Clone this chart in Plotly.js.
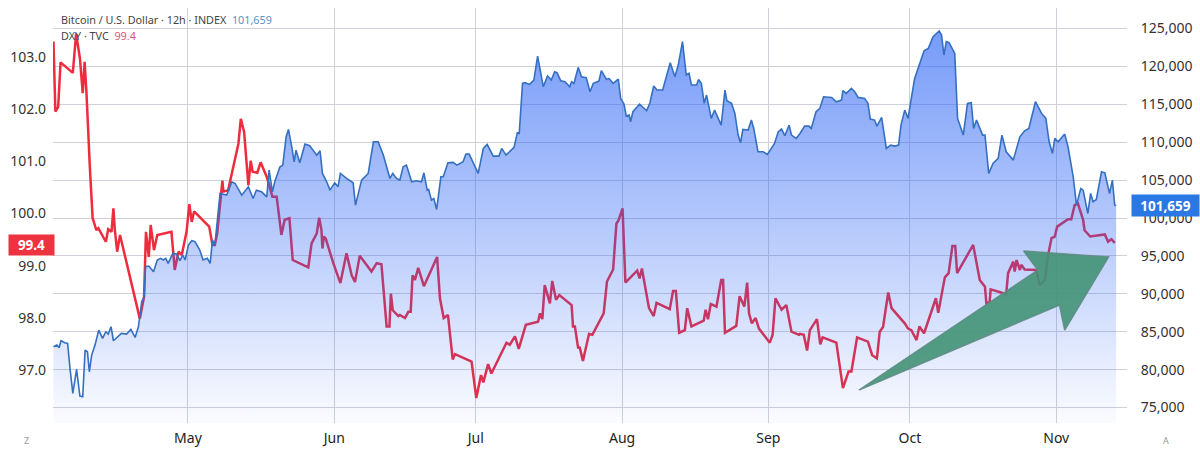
<!DOCTYPE html>
<html><head><meta charset="utf-8">
<script src="https://cdn.plot.ly/plotly-3.0.1.min.js"></script>
<style>html,body{margin:0;padding:0;background:#fff}#c{width:1200px;height:457px}</style></head>
<body><div id="c"></div>
<script>
// x is day of year 2025
const monthDays=[121,152,182,213,244,274,305];
const monthLabels=["May","Jun","Jul","Aug","Sep","Oct","Nov"];
const btcTicks=[75000,80000,85000,90000,95000,100000,105000,110000,115000,120000,125000];
const dxyTicks=[97,98,99,100,101,102,103];
const btcDay=[92.5,93.2,93.7,94.1,94.9,95.5,96,96.6,97.4,98.1,98.7,99.2,99.7,100.1,100.6,101.3,102.1,102.9,103.6,104.1,104.7,105.2,106.9,108,108.9,109.8,110.5,111.2,111.7,112,112.7,113.7,114.5,115.2,115.8,116.3,116.8,117.8,118.6,119.3,119.9,120.4,121.1,121.8,122.5,123.5,124.2,125.1,125.7,126.2,126.7,127.8,129.2,130.3,131,132.4,133.8,134.8,135.5,136.6,137.7,138.2,138.9,139.4,140.5,141.1,141.8,142.3,143,143.5,143.9,144.7,145.8,146.8,148.3,149,149.5,150.4,151.1,152.1,152.8,153.3,154.6,156,156.5,157.8,159.2,160.3,161.3,162.4,163.8,164.4,165.2,165.9,166.6,167.3,168.4,169.4,170.5,171,171.7,172,172.6,173.1,173.7,174.6,175.1,176.1,177.2,178,179.3,179.9,180.6,181.4,182.5,183.6,184.4,185.7,186.9,187.5,188.4,190.1,190.8,191.2,191.9,192.4,193.4,194.3,195.1,196.3,197.2,198,198.7,199.2,200,200.9,201.9,202.3,202.8,203.7,204.4,205.4,206.2,206.9,208.1,208.6,209.7,210.2,211.1,212.2,212.7,213.4,213.9,214.5,214.8,215.3,216.7,218.2,218.9,219.7,220.4,221.6,222.4,223.2,224.2,224.9,225.8,226.6,227.2,227.7,228.8,229.2,229.8,230.4,230.9,231.9,232.6,234,234.8,235.2,236.2,236.9,237.6,238.1,238.6,239.7,240.4,240.9,241.8,242.9,243.8,245.3,246.1,246.8,247.5,248.4,248.9,249.9,250.7,251.7,252.6,253.1,254.1,254.9,255.7,257.4,258.4,259.5,259.8,260.5,261.6,262.3,263,264.4,265.1,265.6,266.5,267,268,269,269.9,270.8,271.6,272.1,272.9,273.6,274.7,275,276.1,277,277.9,278.9,280.2,280.7,281.2,281.7,282.3,283.5,284.1,285.3,286.2,287,287.5,288.1,289.4,289.9,290.7,291.6,292.7,293.5,294.4,295.9,297.3,298.3,299.2,300.6,301.9,302.8,303.5,304.2,304.7,305.4,306.8,307.5,308.6,309.3,310.2,310.7,311.7,312.3,312.8,313.5,314.6,315.3,316.3,316.9,317.4,317.7];
const btcPrice=[83017,83237,82885,83809,83545,83457,80157,76857,80025,76505,76417,82577,82357,79717,81917,83237,85217,84117,84997,84689,85657,83809,84777,84689,85305,84249,85657,88957,89617,93577,93665,92917,94457,94677,94457,94677,94017,95337,95249,94369,95117,94457,96437,97009,96877,95777,94457,94677,94017,97097,96437,103234,103014,104774,104554,103014,104114,102574,103674,103454,102794,106314,103454,104774,106754,106974,110714,111682,109394,107414,108954,107282,109746,109526,108294,108866,105874,104774,103674,104642,104114,105874,105214,104642,101694,104994,105874,110054,110054,108294,105214,105874,105214,104997,106757,106977,104777,104909,104777,105965,103677,103765,102357,102577,101125,105437,105437,107285,107329,106977,107417,108429,108429,107417,105877,109177,109705,108165,108165,109177,108297,109309,111245,111157,117757,117845,117625,118197,121365,117317,118725,118197,119297,119165,118109,117977,117317,117977,117757,119869,118637,118505,116657,117757,118065,119429,118285,118417,117757,118329,115777,115029,113445,113577,112697,114017,115029,114149,115205,117405,116877,116877,118857,120485,118637,120177,123257,118857,119077,117537,117537,118285,117757,115117,116217,113137,114237,112257,116877,115469,115117,113797,110937,109925,111685,111597,112917,111817,108737,108737,108385,109837,111377,111729,110849,112257,110937,110497,111156,112124,112124,111816,114016,114456,115996,115908,115336,115556,116788,116436,117096,116656,115908,115776,115116,113048,112916,112124,113268,109176,109616,109484,109616,112256,114236,113136,117316,118416,120396,122068,122376,123916,124664,124136,121496,123256,123124,121716,113136,110936,115116,115204,111816,112916,110936,110936,105876,107196,107856,110936,108736,107636,110716,111508,111816,115336,113796,113136,110056,108516,110496,110056,111068,109396,105436,101696,103896,103676,100596,103236,102136,102444,106096,105964,103236,104996,101696,101659];
const dxyDay=[92.5,92.9,93.5,94,96.6,97.3,98.1,98.7,99.1,99.5,100.2,100.8,101.6,102,103.6,104.1,104.8,105.2,105.5,106,106.6,110.8,111.7,112.1,112.7,113.1,113.8,114.5,117.5,118.2,119,119.7,120.7,121.3,121.8,122.3,125.5,126.2,126.7,127.2,128.3,128.5,129.5,131.7,132.2,132.9,133.8,134.3,134.7,135.7,136.4,137.7,138.9,139.8,140.8,141.5,142.5,143.2,146.5,147.2,148.3,148.8,149.3,149.5,149.8,150.2,151.8,153.3,154.6,155.7,156.4,157.4,159.9,161,162,163.1,163.7,164,164.4,165.6,165.9,167,167.7,168.2,168.6,169.1,169.8,171,173.8,174.4,175.2,176.1,177.1,177.6,181.1,182.1,183.1,183.6,184.6,185.3,188.5,189.2,190.3,191.1,192.6,195.2,195.6,196.1,196.6,197.7,198.2,199,199.7,202.3,202.6,203,203.7,204,204.7,206,206.7,209.1,209.8,211.1,211.8,212.2,213.1,213.7,216.2,216.7,217.2,218.7,219.7,220.3,223.1,223.8,224.4,225.1,226.3,226.8,227.7,230.3,230.7,231.2,231.8,233,234,234.4,234.8,237.2,237.9,238.9,239.5,239.9,240.5,241.3,242,244.3,244.9,245.5,246.8,247.8,248.9,250.5,250.7,251.5,252.2,252.8,254.3,255,255.5,258.4,259.8,261,261.6,262.8,265.1,266,267,267.6,268.3,269.4,270.1,272.9,273.6,274.3,275.4,276,277,279.5,280,281.4,282.2,283,283.6,284,287.4,288.8,289.9,290.2,290.9,291.1,294.4,294.8,295.9,296.2,296.6,297.3,297.6,298.3,300.8,301.5,302.6,303.3,304,304.7,305.2,306.5,307.5,308.2,308.9,309.6,310.7,311,312.2,315.3,316,316.7,317.4];
const dxyClose=[103.29,101.95,102.04,102.89,102.69,103.44,102.97,102.3,102.9,102.3,100.9,99.91,99.68,99.72,99.46,99.7,99.65,100.1,99.69,99.27,99.59,97.99,98.41,99.65,99.17,99.78,99.3,99.59,99.65,98.92,99.27,99.21,99.65,100.18,99.84,100.04,99.75,99.4,99.4,99.62,100.63,100.42,100.44,101.34,101.81,101.56,100.54,101.01,100.8,100.78,100.98,100.7,100.32,100.32,99.59,99.88,99.91,99.11,98.97,99.43,99.62,99.92,99.68,99.33,99.56,99.52,99.05,98.67,99.24,98.82,98.69,99.19,98.89,99.05,99.03,97.84,97.84,98.47,98.15,98.04,98.06,98,98.12,98.12,98.82,98.73,98.96,98.61,99.17,98.38,98,98.06,97.21,97.31,97.17,96.47,96.91,96.77,97.12,96.94,97.53,97.49,97.65,97.41,97.87,97.93,98.09,97.98,98.63,98.28,98.71,98.35,98.44,98.25,97.84,97.84,97.42,97.45,97.18,97.7,97.68,98.09,98.7,98.93,99.81,99.86,100.1,98.68,98.91,98.76,98.95,98.19,98.04,98.29,98.17,98.52,98.52,97.72,97.77,98.19,97.84,97.95,98.16,97.98,98.27,98.22,98.73,98.73,97.72,97.85,98.42,98.22,98.68,98.09,97.9,98,97.8,97.53,97.68,98.38,98.16,98.25,97.74,97.68,97.7,97.68,97.38,97.77,97.98,97.5,97.63,97.53,96.66,96.98,96.98,97.63,97.55,97.29,97.23,97.74,97.83,98.49,98.19,97.9,97.8,97.77,97.58,97.84,97.71,98.38,98.1,98.78,98.86,99.38,99.38,98.86,99.4,98.73,98.6,98.28,98.31,98.55,98.46,98.86,99.08,98.89,99.11,98.92,99.02,98.93,98.92,98.63,98.73,99.21,99.53,99.56,99.75,99.82,99.89,99.89,100.16,100.19,99.88,99.68,99.56,99.6,99.46,99.51,99.44];
const arrowDay=[263.2,301.1,298.1,316.1,306.8,305.7,263.2];
const arrowPrice=[77313,93141,95647,94856,85227,88525,77313];
const lastBtc=101659, lastDxy=99.4;

const font="'Noto Sans',sans-serif";
const traces=[
 {x:dxyDay,y:dxyClose,yaxis:'y',type:'scatter',mode:'lines',line:{color:'#ee2c3e',width:2.5},hoverinfo:'skip'},
 {x:btcDay,y:btcPrice,yaxis:'y2',type:'scatter',mode:'lines',fill:'tozeroy',
  fillgradient:{type:'vertical',start:72960,stop:125000,
   colorscale:[[0,'rgba(41,98,245,0.02)'],[0.52,'rgba(41,98,245,0.36)'],[1,'rgba(41,98,245,0.64)']]},
  line:{color:'#3570c0',width:1.6},hoverinfo:'skip'},
 {x:arrowDay,y:arrowPrice,yaxis:'y2',type:'scatter',mode:'lines',fill:'toself',
  fillcolor:'rgba(66,146,118,0.9)',line:{color:'rgba(95,140,132,0.9)',width:1.5},hoverinfo:'skip'}
];
const layout={
 width:1200,height:457,margin:{l:53,r:73,t:8,b:34},paper_bgcolor:'#fff',plot_bgcolor:'#fff',showlegend:false,
 xaxis:{range:[92.4,320],tickmode:'array',tickvals:monthDays,ticktext:monthLabels,showgrid:true,gridcolor:'#d0d0d8',gridwidth:1,zeroline:false,
  ticks:'',tickfont:{family:font,size:14,color:'#222'},ticklabelstandoff:5},
 yaxis:{range:[95.994,103.93],tickmode:'array',tickvals:dxyTicks,tickformat:'.1f',showgrid:false,zeroline:false,
  tickfont:{family:font,size:14,color:'#333'},ticklabelstandoff:6},
 yaxis2:{range:[72960,127700],overlaying:'y',side:'right',tickmode:'array',tickvals:btcTicks,tickformat:',d',showgrid:true,gridcolor:'#d0d0d8',gridwidth:1,zeroline:false,
  ticks:'outside',ticklen:10,tickcolor:'rgba(0,0,0,0)',tickfont:{family:font,size:14,color:'#333'}},
 annotations:[
  {xref:'paper',yref:'paper',x:(59-53)/1074,y:(423-19)/415,xanchor:'left',yanchor:'middle',showarrow:false,align:'left',
   text:'Bitcoin / U.S. Dollar · 12h · INDEX  <span style="color:#5f8fc8">101,659</span>',font:{family:font,size:10.8,color:'#444'}},
  {xref:'paper',yref:'paper',x:(59-53)/1074,y:(423-35)/415,xanchor:'left',yanchor:'middle',showarrow:false,align:'left',
   text:'DXY · TVC  <span style="color:#d9586f">99.4</span>',font:{family:font,size:10.8,color:'#444'}},
  {xref:'paper',yref:'y',x:-45/1074,y:lastDxy,xanchor:'left',yanchor:'middle',showarrow:false,width:45,height:20,bgcolor:'#ee3340',borderpad:0,
   text:'<b>'+lastDxy+'</b>',font:{family:font,size:13.5,color:'#fff'}},
  {xref:'paper',yref:'y2',x:(1131-53)/1074,y:lastBtc,xanchor:'left',yanchor:'middle',showarrow:false,width:67,height:21,bgcolor:'#2a78e4',borderpad:0,
   text:'<b>'+lastBtc.toLocaleString('en-US')+'</b>',font:{family:font,size:13.5,color:'#fff'}},
  {xref:'paper',yref:'paper',x:(26-53)/1074,y:(423-440)/415,xanchor:'center',yanchor:'middle',showarrow:false,text:'Z',font:{family:font,size:9,color:'#999'}},
  {xref:'paper',yref:'paper',x:(1166-53)/1074,y:(423-440)/415,xanchor:'center',yanchor:'middle',showarrow:false,text:'A',font:{family:font,size:9,color:'#999'}}
 ]
};
Plotly.newPlot('c',traces,layout,{displayModeBar:false,staticPlot:true});
</script></body></html>
